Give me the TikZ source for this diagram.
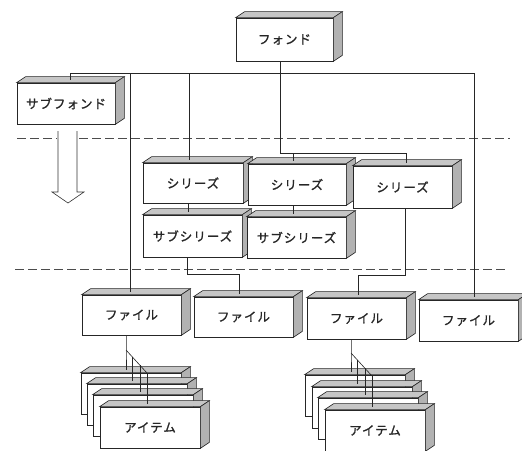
\documentclass[tikz,border=0pt]{standalone}
\usepackage{fontspec}
\newfontfamily\jpfont[LetterSpace=8,FakeBold=1.2]{Noto Sans CJK JP}
\usetikzlibrary{calc}
\tikzset{
  cubefront/.style={draw=black!85, line width=0.7pt, fill=white, inner sep=0pt, font=\jpfont\fontsize{12.5}{14}\selectfont, text=black!85},
  topface/.style={draw=black!85, line width=0.6pt, fill=gray!45},
  sideface/.style={draw=black!85, line width=0.6pt, fill=gray!60},
  conn/.style={draw=black!85, line width=0.6pt},
  sep/.style={draw=black!70, line width=0.6pt, dash pattern=on 9pt off 4pt},
  hollow/.style={draw=black!80, line width=0.6pt, fill=white}
}
\newcommand\cubebox[6]{%
  \node[cubefront, minimum width={(#4-#2)*1pt}, minimum height={(#5-#3)*1pt}] (#1) at ({(#2+#4)/2},{(#3+#5)/2}) {#6};
  \filldraw[topface] (#1.north west) -- ++(9,-6) -- ([shift={(9,-6)}]#1.north east) -- (#1.north east) -- cycle;
  \filldraw[sideface] (#1.north east) -- ++(9,-6) -- ([shift={(9,-6)}]#1.south east) -- (#1.south east) -- cycle;
}
\begin{document}
\begin{tikzpicture}[x=1pt,y=-1pt]
\useasboundingbox (0,0) rectangle (522,450);
\fill[white] (0,0) rectangle (522,450);

% separators
\draw[sep] (17,138) -- (57,138);
\draw[sep] (79,138) -- (510,138);
\draw[sep] (15,269) -- (508,269);

% hollow arrow
\draw[hollow] (58,131) -- (58,192) -- (52,192) -- (68,203) -- (84,192) -- (77,192) -- (77,131);

% boxes
\cubebox{fond}{236}{18}{333}{61}{フォンド}
\cubebox{subfond}{17}{83}{115}{124}{サブフォンド}
\cubebox{ser1}{143}{163}{243}{203}{シリーズ}
\cubebox{ser2}{248}{164}{346}{205}{シリーズ}
\cubebox{ser3}{353}{166}{452}{208}{シリーズ}
\cubebox{subser1}{143}{215}{242}{257}{サブシリーズ}
\cubebox{subser2}{247}{217}{346}{258}{サブシリーズ}
\cubebox{file1}{82}{295}{181}{335}{ファイル}
\cubebox{file2}{194}{297}{293}{337}{ファイル}
\cubebox{file3}{307}{298}{406}{339}{ファイル}
\cubebox{file4}{419}{300}{518}{341}{ファイル}

\cubebox{itemL1}{81}{373}{181}{414}{}
\cubebox{itemL2}{87}{384}{187}{425}{}
\cubebox{itemL3}{93}{395}{193}{436}{}
\cubebox{itemL4}{100}{407}{200}{448}{アイテム}

\cubebox{itemR1}{305}{375}{405}{416}{}
\cubebox{itemR2}{312}{387}{412}{428}{}
\cubebox{itemR3}{318}{398}{418}{439}{}
\cubebox{itemR4}{325}{410}{425}{451}{アイテム}

% connectors
\coordinate (b0) at (70,73);
\coordinate (b1) at (130,73);
\coordinate (b2) at (189,73);
\coordinate (b4) at (474,73);
\coordinate (t1) at (280,153);
\coordinate (t2) at (293,153);
\coordinate (t3) at (406,153);
\coordinate (v1) at (188,210);
\coordinate (u1) at (187,274);
\coordinate (u2) at (239,274);
\coordinate (w1) at (405,275);
\coordinate (w2) at (358,275);

\draw[conn] (b0) -- (b4);
\draw[conn] (b0) -- ($(subfond.north -| b0)+(0,-3)$);
\draw[conn] (b1) -- ($(file1.north -| b1)+(0,-3)$);
\draw[conn] (b2) -- ($(ser1.north -| b2)+(0,-3)$);
\draw[conn] (b4) -- ($(file4.north -| b4)+(0,-3)$);
\draw[conn] (fond.south -| t1) -- (t1) -- (t3) -- ($(ser3.north -| t3)+(0,-3)$);
\draw[conn] (t2) -- ($(ser2.north -| t2)+(0,-3)$);
\draw[conn] (ser1.south -| v1) -- ($(subser1.north -| v1)+(0,-3)$);
\draw[conn] (ser2.south -| t2) -- ($(subser2.north -| t2)+(0,-3)$);
\draw[conn] (subser1.south -| u1) -- (u1) -- (u2) -- ($(file2.north -| u2)+(0,-3)$);
\draw[conn] (ser3.south -| w1) -- (w1) -- (w2) -- ($(file3.north -| w2)+(0,-3)$);

% fan left
\coordinate (fl) at (126,350);
\coordinate (fl2) at (132,357);
\coordinate (fl3) at (140,365);
\coordinate (fl4) at (147,373);
\draw[conn] (file1.south -| fl) -- (fl) -- ($(itemL1.north -| fl)+(0,-3)$);
\draw[conn] (fl) -- (fl4);
\draw[conn] (fl2) -- ($(itemL2.north -| fl2)+(0,-3)$);
\draw[conn] (fl3) -- ($(itemL3.north -| fl3)+(0,-3)$);
\draw[conn] (fl4) -- ($(itemL4.north -| fl4)+(0,-3)$);

% fan right
\coordinate (fr) at (351,353);
\coordinate (fr2) at (357,360);
\coordinate (fr3) at (365,368);
\coordinate (fr4) at (372,376);
\draw[conn] (file3.south -| fr) -- (fr) -- ($(itemR1.north -| fr)+(0,-3)$);
\draw[conn] (fr) -- (fr4);
\draw[conn] (fr2) -- ($(itemR2.north -| fr2)+(0,-3)$);
\draw[conn] (fr3) -- ($(itemR3.north -| fr3)+(0,-3)$);
\draw[conn] (fr4) -- ($(itemR4.north -| fr4)+(0,-3)$);
\end{tikzpicture}
\end{document}
